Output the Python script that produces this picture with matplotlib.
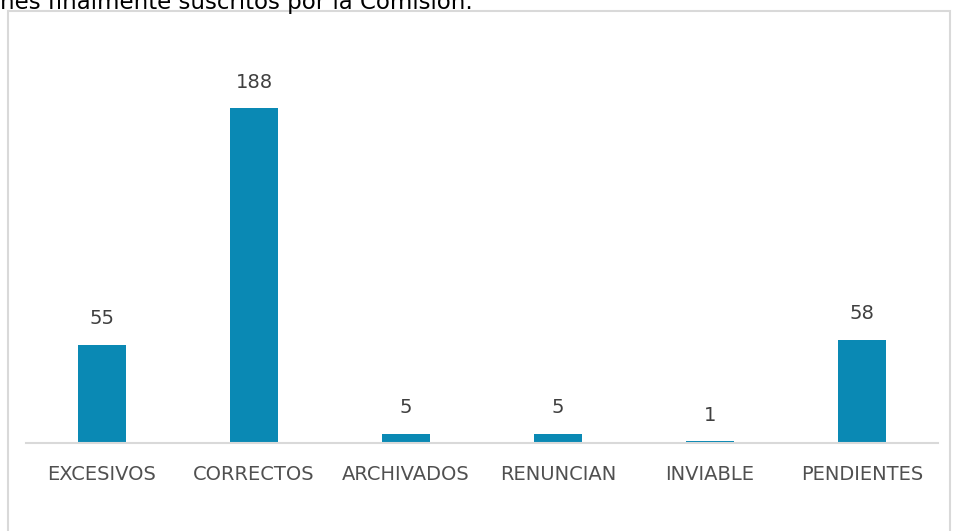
import matplotlib
matplotlib.use('Agg')
import matplotlib.pyplot as plt
from matplotlib.patches import Rectangle

categorias = ['EXCESIVOS', 'CORRECTOS', 'ARCHIVADOS', 'RENUNCIAN', 'INVIABLE', 'PENDIENTES']
valores = [55, 188, 5, 5, 1, 58]

plt.rcParams['font.family'] = ['DejaVu Sans']

fig = plt.figure(figsize=(9.55, 5.31), dpi=100)

# marco gris del grafico (se corta por abajo)
fig.patches.append(Rectangle((8 / 955, -0.1), (950 - 8) / 955, 1.1 - 11 / 531,
                             transform=fig.transFigure, fill=False,
                             edgecolor='#d9d9d9', linewidth=1.5))

# texto del documento cortado arriba
fig.text(0.0, 1 - 8.5 / 531, 'nes finalmente suscritos por la Comisión.',
         fontsize=16.5, color='#000000', va='baseline', ha='left')

ax = fig.add_axes([26 / 955, (531 - 443) / 531, 912 / 955, 356 / 531])
x = range(len(categorias))
bars = ax.bar(x, valores, width=0.31, color='#0a89b4')

for xi, v in zip(x, valores):
    ax.annotate(str(v), (xi, v), xytext=(0, 12), textcoords='offset points',
                ha='center', va='bottom', fontsize=14, color='#404040')

ax.set_xlim(-0.5, len(categorias) - 0.5)
ax.set_ylim(0, 200)
ax.set_xticks(list(x))
ax.set_xticklabels(categorias, fontsize=14, color='#505050')
ax.tick_params(axis='x', length=0, pad=16)
ax.set_yticks([])
for s in ['top', 'right', 'left']:
    ax.spines[s].set_visible(False)
ax.spines['bottom'].set_color('#d9d9d9')
ax.spines['bottom'].set_linewidth(1.5)

fig.savefig('out.png', dpi=100)
